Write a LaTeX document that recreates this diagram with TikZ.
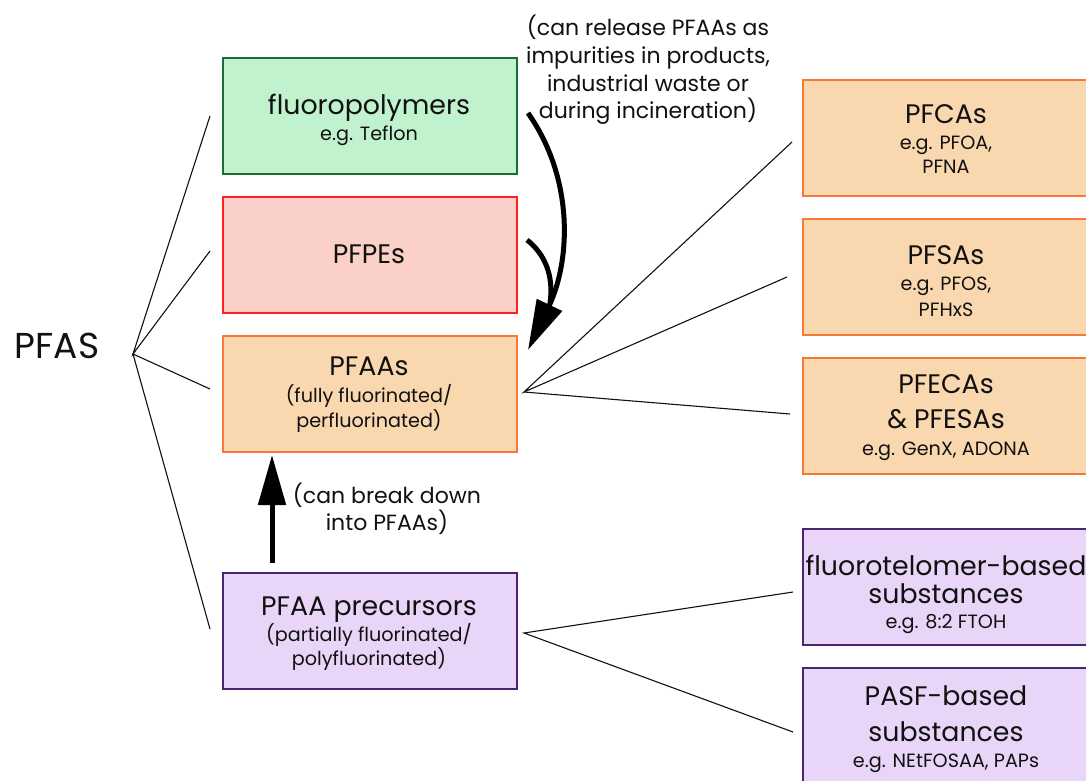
\documentclass[tikz,border=0pt]{standalone}
\usepackage{fontspec}
\setmainfont{Poppins}
\usetikzlibrary{arrows.meta}
\definecolor{grnfill}{HTML}{C0F2CD}
\definecolor{grnline}{HTML}{1E6B3A}
\definecolor{redfill}{HTML}{FAD0C8}
\definecolor{redline}{HTML}{FF2020}
\definecolor{orgfill}{HTML}{FAD8AF}
\definecolor{orgline}{HTML}{F57A38}
\definecolor{purfill}{HTML}{E8D5F8}
\definecolor{purline}{HTML}{4C2572}
\definecolor{ink}{HTML}{111111}
\newcommand\bigtxt{\fontsize{26.8}{30}\selectfont}
\newcommand\smtxt{\fontsize{19.2}{23}\selectfont}
\newcommand\notetxt{\fontsize{22}{26}\selectfont}
\newcommand\pfastxt{\fontsize{36}{40}\selectfont}
\tikzset{
  box/.style={rectangle, line width=1.6pt, inner sep=0pt, anchor=north west, minimum width=294pt, minimum height=116pt},
  rbox/.style={box, minimum width=288pt},
  grnbox/.style={box, fill=grnfill, draw=grnline},
  redbox/.style={box, fill=redfill, draw=redline},
  orgbox/.style={box, fill=orgfill, draw=orgline},
  rorgbox/.style={rbox, fill=orgfill, draw=orgline},
  purbox/.style={box, fill=purfill, draw=purline},
  rpurbox/.style={rbox, fill=purfill, draw=purline},
  mainlbl/.style={anchor=base, font=\bigtxt, text=ink, inner sep=0pt},
  sublbl/.style={anchor=base, font=\smtxt, text=ink, inner sep=0pt},
  notelbl/.style={anchor=base, font=\notetxt, text=ink, inner sep=0pt},
  thinline/.style={line width=1.1pt, draw=ink},
  bigarrow/.style={line width=5pt, draw=black, -{Triangle[length=50pt,width=27pt]}},
  bigcurve/.style={line width=5pt, draw=black},
}
\begin{document}
\begin{tikzpicture}[x=1pt,y=-1pt]
\useasboundingbox (0,0) rectangle (1086,780);
\fill[white] (0,0) rectangle (1086,780);

% boxes
\node[grnbox] (fluoro) at (222,57) {};
\node[redbox] (pfpe) at (222,196) {};
\node[orgbox] (pfaa) at (222,335) {};
\node[purbox] (prec) at (222,572) {};
\node[rorgbox] (pfca) at (802,79) {};
\node[rorgbox] (pfsa) at (802,218) {};
\node[rorgbox] (pfeca) at (802,357) {};
\node[rpurbox, minimum height=116pt] (ftel) at (802,528) {};
\node[rpurbox, minimum height=130pt] (pasf) at (802,667) {};

% labels in boxes
\node[mainlbl] (t1) at (369,114) {fluoropolymers};
\node[sublbl] (t1b) at (369,140) {e.g. Teflon};
\node[mainlbl] (t2) at (369,263) {PFPEs};
\node[mainlbl] (t3) at (369,375) {PFAAs};
\node[sublbl] (t3b) at (369,402) {(fully fluorinated/};
\node[sublbl] (t3c) at (369,427) {perfluorinated)};
\node[mainlbl] (t4) at (369,615) {PFAA precursors};
\node[sublbl] (t4b) at (369,641) {(partially fluorinated/};
\node[sublbl] (t4c) at (369,665) {polyfluorinated)};

\node[mainlbl] (r1) at (946,123) {PFCAs};
\node[sublbl] (r1b) at (946,149) {e.g. PFOA,};
\node[sublbl] (r1c) at (946,173) {PFNA};
\node[mainlbl] (r2) at (946,264) {PFSAs};
\node[sublbl] (r2b) at (946,290) {e.g. PFOS,};
\node[sublbl] (r2c) at (946,316) {PFHxS};
\node[mainlbl] (r3) at (946,393) {PFECAs};
\node[mainlbl] (r3b) at (946,428) {\& PFESAs};
\node[sublbl] (r3c) at (946,455) {e.g. GenX, ADONA};
\node[mainlbl] (r4) at (946,575) {fluorotelomer-based};
\node[mainlbl] (r4b) at (946,603) {substances};
\node[sublbl] (r4c) at (946,628) {e.g. 8:2 FTOH};
\node[mainlbl] (r5) at (946,705) {PASF-based};
\node[mainlbl] (r5b) at (946,741) {substances};
\node[sublbl] (r5c) at (946,767) {e.g. NEtFOSAA, PAPs};

% PFAS root
\node[anchor=base, font=\pfastxt, text=ink, inner sep=0pt] (pfas) at (57,358) {PFAS};

% annotations
\node[notelbl] (n1) at (648,35) {(can release PFAAs as};
\node[notelbl] (n2) at (648,63) {impurities in products,};
\node[notelbl] (n3) at (648,91) {industrial waste or};
\node[notelbl] (n4) at (648,118) {during incineration)};
\node[notelbl] (n5) at (387,503) {(can break down};
\node[notelbl] (n6) at (387,530) {into PFAAs)};

% tree connectors
\coordinate (hub) at (133,354);
\coordinate (e1) at (210,116);
\coordinate (e2) at (210,251);
\coordinate (e3) at (210,389);
\coordinate (e4) at (210,629);
\draw[thinline] (e1) -- (hub) -- (e2);
\draw[thinline] (e3) -- (hub) -- (e4);

\coordinate (hubA) at (524,392);
\coordinate (f1) at (792,142);
\coordinate (f2) at (787,277);
\coordinate (f3) at (790,414);
\draw[thinline] (f1) -- (hubA) -- (f2);
\draw[thinline] (hubA) -- (f3);

\coordinate (hubB) at (524,633);
\coordinate (g1) at (793,592);
\coordinate (g2) at (793,732);
\draw[thinline] (g1) -- (hubB) -- (g2);

% arrows
\coordinate (a1s) at (528,113);
\coordinate (a1t) at (528,350);
\draw[bigarrow] (a1s) .. controls (575,180) and (570,262) .. (a1t);
\coordinate (a2s) at (527,240);
\coordinate (a2e) at (550,303);
\draw[bigcurve] (a2s) .. controls (545,254) and (554,276) .. (a2e);

\draw[bigarrow] (prec.north west) ++(50,-9) coordinate (u1) (u1) -- ++(0,-108) coordinate (u2);
\end{tikzpicture}
\end{document}
